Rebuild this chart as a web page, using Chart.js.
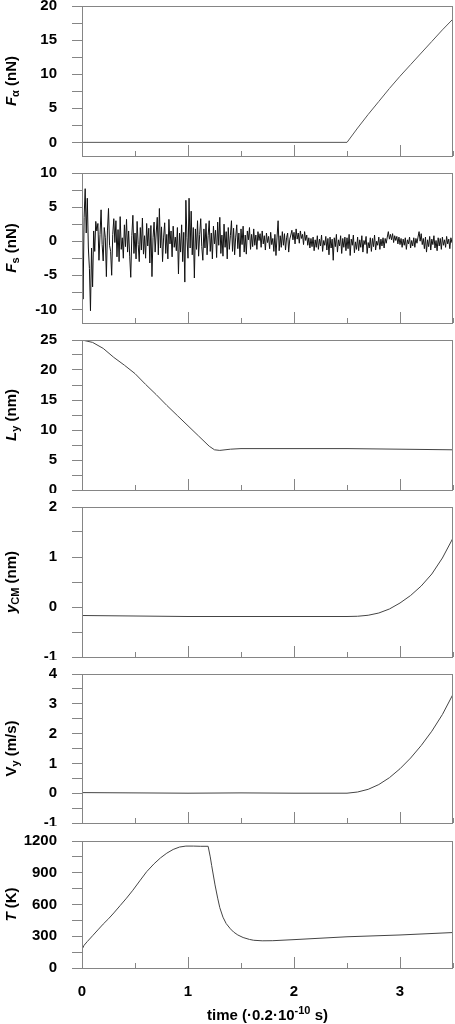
<!DOCTYPE html>
<html>
<head>
<meta charset="utf-8">
<script src="https://cdn.jsdelivr.net/npm/chart.js@4/dist/chart.umd.min.js"></script>
<style>
  html, body { margin: 0; padding: 0; background: #fff; }
  #wrap { position: relative; width: 455px; height: 1024px; overflow: hidden; }
  #wrap canvas { position: absolute; left: 0; }
</style>
</head>
<body>
<div id="wrap"></div>
<script>
// time axis, in units of 0.2e-10 s
const timeMin = 0;
const timeMax = 3.5;

// F_alpha (nN)
const faTime = [0, 2.5, 2.6, 2.7, 2.8, 2.9, 3.0, 3.1, 3.2, 3.3, 3.4, 3.5];
const faForce = [0, 0, 2.1, 4.1, 6.0, 7.9, 9.7, 11.4, 13.1, 14.8, 16.5, 18.1];

// F_s (nN), one sample every 0.01 time units starting at 0
const fsStep = 0.01;
const fsForce = [
  0, -8.5, 3.5, 7.7, 1.2, 6.3, -1.0, -4.0, -10.2, -1.0,
  -6.7, 1.5, -1.5, 2.9, 1.5, 2.6, -2.8, 1.0, 4.6, -0.5,
  -2.9, 2.0, 0.5, -5.2, 1.5, 4.8, -0.6, -1.5, -5.0, 1.0,
  3.3, -0.2, 3.0, -2.3, 1.7, -3.0, 3.6, -1.2, 0.5, -2.5,
  2.4, -0.8, 3.2, -1.6, 1.5, -2.2, -5.3, 0.8, 3.8, -1.8,
  1.2, -2.6, 2.9, -0.5, -3.0, 2.0, -1.3, 3.4, -1.9, 0.8,
  -2.5, 2.6, -0.7, 1.9, -3.2, 2.3, -5.2, 0.5, 2.8, -1.6,
  1.2, 3.5, -2.0, 4.8, -1.0, 2.1, -3.0, 0.6, 2.7, -1.8,
  1.0, -2.6, 3.2, -0.4, 1.5, -2.3, 2.2, -0.9, 0.6, -1.4,
  2.0, -4.8, 1.2, -1.6, 2.4, -3.0, 1.3, -6.0, 6.0, 0.5,
  -2.5, 6.3, -1.0, 4.4, -2.0, 2.0, -5.4, 1.8, -1.2, 3.0,
  -2.2, 1.0, 3.3, -0.8, -2.8, 1.8, -1.0, 2.6, -2.0, 0.8,
  3.0, -1.5, 1.2, -2.6, 2.2, -0.4, 1.6, -2.4, 2.8, -0.6,
  3.5, -1.8, 0.9, -2.2, 2.5, -0.9, 1.4, -2.6, 2.0, -1.2,
  0.8, 3.0, -1.5, 1.9, -2.0, 0.6, 2.4, -1.1, 1.2, -2.3,
  1.8, -0.5, 2.2, -1.6, 0.9, -1.9, 1.5, 0.2, 2.0, -1.2,
  1.0, -0.8, 1.8, -0.6, 0.9, -1.2, 1.4, 0.1, 1.1, -0.9,
  1.5, -0.4, 0.8, -1.3, 1.2, -0.2, 0.7, -1.1, 1.3, -0.5,
  0.4, -1.5, 1.0, -2.1, 0.6, 3.0, -1.4, 0.8, -0.9, 1.4,
  -0.6, 1.1, -1.3, 0.5, 1.2, -1.6, 0.3, 0.9, 1.6, 0.2,
  1.3, -0.4, 1.8, 0.3, 1.2, -0.3, 1.5, 0.4, 1.0, -0.5,
  1.4, 0.1, 0.9, -0.6, 0.5, -1.0, 0.4, -0.8, 0.6, -1.4,
  0.2, -0.9, 0.8, -1.2, 0.3, -0.7, 0.9, -1.5, 0.1, -0.6,
  0.7, -1.3, 0.4, -2.0, 0.6, -1.0, 0.3, -2.8, 0.5, -0.8,
  1.0, -1.6, 0.2, -0.7, 0.8, -1.8, 0.4, -0.9, 0.6, -1.4,
  0.5, -1.1, 1.0, -2.1, 0.3, -0.6, 0.9, -1.7, -0.1, -1.2,
  0.6, -1.4, 0.2, -0.9, 0.8, -1.6, 0.1, -0.5, 0.7, -1.8,
  -0.2, -1.0, 0.5, -1.5, 0.4, -0.8, 0.9, -1.3, 0.0, -0.6,
  0.6, -1.2, 0.3, -0.7, 0.5, -1.0, 0.4, -0.3, 0.6, 1.4,
  0.3, 1.0, 0.2, 1.1, -0.2, 0.8, 0.1, 0.7, -0.4, 0.6,
  -0.5, 0.4, -0.9, 0.3, -0.6, 0.5, -1.2, 0.2, -0.4, 0.6,
  -1.0, 0.1, -0.7, 0.5, -0.9, 0.4, -0.3, 0.6, 1.4, 0.0,
  1.1, -0.5, 0.4, -1.1, 0.6, -1.6, 0.2, -0.8, 0.7, -1.3,
  0.3, -0.5, 0.8, -1.0, 0.1, -1.4, 0.5, -0.7, 0.4, -1.2,
  0.6, -0.6, 0.2, -0.9, 0.7, -0.4, 0.3, -1.1, 0.5, -0.2,
  0.4
];
const fsTime = fsForce.map((_, i) => Math.round(i * fsStep * 100) / 100);

// L_y (nm)
const lyTime = [0, 0.1, 0.2, 0.3, 0.4, 0.5, 0.6, 0.7, 0.8, 0.9, 1.0, 1.1, 1.2, 1.25, 1.3, 1.4, 1.5, 2.0, 2.5, 3.0, 3.5];
const lyLen = [25.0, 24.6, 23.6, 22.1, 20.8, 19.4, 17.6, 15.9, 14.1, 12.4, 10.7, 9.0, 7.3, 6.7, 6.6, 6.8, 6.9, 6.9, 6.9, 6.8, 6.7];

// y_CM (nm)
const ycmTime = [0, 0.5, 1.0, 1.5, 2.0, 2.5, 2.6, 2.7, 2.8, 2.9, 3.0, 3.1, 3.2, 3.3, 3.4, 3.5];
const ycmPos = [-0.17, -0.18, -0.19, -0.19, -0.19, -0.19, -0.185, -0.165, -0.12, -0.04, 0.08, 0.23, 0.42, 0.66, 0.98, 1.38];

// V_y (m/s)
const vyTime = [0, 0.5, 1.0, 1.5, 2.0, 2.5, 2.6, 2.7, 2.8, 2.9, 3.0, 3.1, 3.2, 3.3, 3.4, 3.5];
const vyVel = [0.02, 0.01, 0.0, 0.01, 0.0, 0.0, 0.04, 0.13, 0.29, 0.52, 0.82, 1.18, 1.6, 2.08, 2.64, 3.32];

// T (K)
const tTime = [0, 0.02, 0.05, 0.1, 0.15, 0.2, 0.25, 0.3, 0.36, 0.42, 0.48, 0.55, 0.61, 0.68, 0.74, 0.8,
  0.86, 0.92, 0.98, 1.05, 1.12, 1.19, 1.21, 1.223, 1.255, 1.28, 1.3, 1.33, 1.36, 1.4, 1.43, 1.47,
  1.52, 1.58, 1.62, 1.7, 1.8, 2.0, 2.5, 3.0, 3.5];
const tTemp = [175, 215, 250, 305, 360, 415, 465, 520, 590, 660, 735, 830, 910, 985, 1040, 1085,
  1120, 1143, 1152, 1152, 1150, 1150, 1050, 970, 785, 660, 570, 480, 420, 370, 340, 312,
  288, 270, 262, 257, 258, 268, 295, 312, 335];

const AXIS = "#858585";
const FONT = '"Liberation Sans", Arial, sans-serif';
const PAD_TOP = 8;

const panels = [
  { top: 6, bottom: 155.5, min: -2, max: 20, step: 2.5, major: 5, xs: faTime, ys: faForce, color: "#555",
    title: [{ t: "F", it: true }, { t: "α", sub: true }, { t: " (nN)" }] },
  { top: 173, bottom: 322.5, min: -12, max: 10, step: 2.5, major: 5, xs: fsTime, ys: fsForce, color: "#111",
    title: [{ t: "F", it: true }, { t: "s", sub: true }, { t: " (nN)" }] },
  { top: 340, bottom: 490, min: 0, max: 25, step: 2.5, major: 5, xs: lyTime, ys: lyLen, color: "#444",
    title: [{ t: "L", it: true }, { t: "y", sub: true }, { t: " (nm)" }] },
  { top: 507, bottom: 657, min: -1, max: 2, step: 0.5, major: 1, xs: ycmTime, ys: ycmPos, color: "#444",
    title: [{ t: "y", it: true }, { t: "CM", sub: true }, { t: " (nm)" }] },
  { top: 674, bottom: 823, min: -1, max: 4, step: 0.5, major: 1, xs: vyTime, ys: vyVel, color: "#444",
    title: [{ t: "V" }, { t: "y", sub: true }, { t: " (m/s)" }] },
  { top: 841, bottom: 968, min: 0, max: 1200, step: 150, major: 300, xs: tTime, ys: tTemp, color: "#444",
    title: [{ t: "T", it: true }, { t: " (K)" }], last: true }
];

const xTitle = [{ t: "time (·0.2·10" }, { t: "-10", sup: true }, { t: " s)" }];

function segFont(s, size) {
  const sz = s.sub || s.sup ? size - 4 : size;
  return (s.it ? "italic " : "") + "bold " + sz + "px " + FONT;
}

function drawRich(ctx, segs, size) {
  let w = 0;
  segs.forEach((s) => {
    ctx.font = segFont(s, size);
    s.w = ctx.measureText(s.t).width;
    w += s.w;
  });
  let x = -w / 2;
  segs.forEach((s) => {
    ctx.font = segFont(s, size);
    const dy = s.sub ? 3 : s.sup ? -6 : 0;
    ctx.fillText(s.t, x, dy);
    x += s.w;
  });
}

// box around the plot area
const framePlugin = {
  id: "frame",
  afterDraw(chart) {
    const { ctx, chartArea: a } = chart;
    ctx.save();
    ctx.strokeStyle = AXIS;
    ctx.lineWidth = 1;
    const l = Math.round(a.left) + 0.5, t = Math.round(a.top) + 0.5;
    const r = Math.round(a.right) - 0.5, b = Math.round(a.bottom) + 0.5;
    ctx.strokeRect(l, t, r - l, b - t);
    ctx.restore();
  }
};

// axis titles with italic, subscript and superscript parts
const titlePlugin = {
  id: "richTitles",
  afterDraw(chart, args, opts) {
    const { ctx, chartArea: a } = chart;
    ctx.save();
    ctx.fillStyle = "#000";
    ctx.textBaseline = "alphabetic";
    ctx.translate(16, (a.top + a.bottom) / 2);
    ctx.rotate(-Math.PI / 2);
    drawRich(ctx, opts.y, 15);
    ctx.restore();
    if (opts.x) {
      ctx.save();
      ctx.fillStyle = "#000";
      ctx.textBaseline = "alphabetic";
      ctx.translate((a.left + a.right) / 2, chart.height - 4);
      drawRich(ctx, opts.x, 15);
      ctx.restore();
    }
  }
};

const wrap = document.getElementById("wrap");

panels.forEach((p) => {
  const extra = p.last ? 1024 - p.bottom : 3;
  const canvas = document.createElement("canvas");
  canvas.width = 455;
  canvas.height = Math.round(p.bottom - p.top + PAD_TOP + extra);
  canvas.style.top = (p.top - PAD_TOP) + "px";
  wrap.appendChild(canvas);

  new Chart(canvas, {
    type: "line",
    data: {
      datasets: [{
        data: p.xs.map((x, i) => ({ x: x, y: p.ys[i] })),
        borderColor: p.color,
        borderWidth: 1,
        pointRadius: 0,
        tension: 0,
        fill: false
      }]
    },
    options: {
      responsive: false,
      animation: false,
      devicePixelRatio: 1,
      layout: { padding: { top: PAD_TOP, right: 2, left: 0, bottom: 0 }, autoPadding: false },
      plugins: {
        legend: { display: false },
        tooltip: { enabled: false },
        richTitles: { y: p.title, x: p.last ? xTitle : null }
      },
      scales: {
        x: {
          type: "linear", min: timeMin, max: timeMax, position: "bottom", weight: 1,
          border: { display: false },
          grid: { drawOnChartArea: false, tickLength: -11, color: AXIS },
          ticks: {
            stepSize: 1, includeBounds: false, autoSkip: false, maxRotation: 0,
            display: !!p.last, padding: 26, color: "#000",
            font: { family: FONT, size: 15, weight: "bold" }
          },
          afterFit: (s) => { s.height = extra; s.paddingLeft = 0; s.paddingRight = 0; }
        },
        xMinor: {
          type: "linear", min: timeMin, max: timeMax, position: "bottom", weight: 0,
          border: { display: false },
          grid: { drawOnChartArea: false, tickLength: -5, color: AXIS },
          ticks: { stepSize: 0.5, includeBounds: false, autoSkip: false, display: false },
          afterFit: (s) => { s.height = 0; s.paddingLeft = 0; s.paddingRight = 0; }
        },
        y: {
          min: p.min, max: p.max,
          border: { display: false },
          grid: { drawOnChartArea: false, tickLength: 10, color: AXIS },
          ticks: {
            stepSize: p.step, includeBounds: false, autoSkip: false, maxTicksLimit: 40,
            padding: 15, color: "#000",
            font: { family: FONT, size: 15, weight: "bold" },
            callback: (v) => (Math.abs(v / p.major - Math.round(v / p.major)) < 1e-6 ? v : "")
          },
          afterFit: (s) => { s.width = 82; s.paddingTop = 0; s.paddingBottom = 0; }
        }
      }
    },
    plugins: [framePlugin, titlePlugin]
  });
});
</script>
</body>
</html>
